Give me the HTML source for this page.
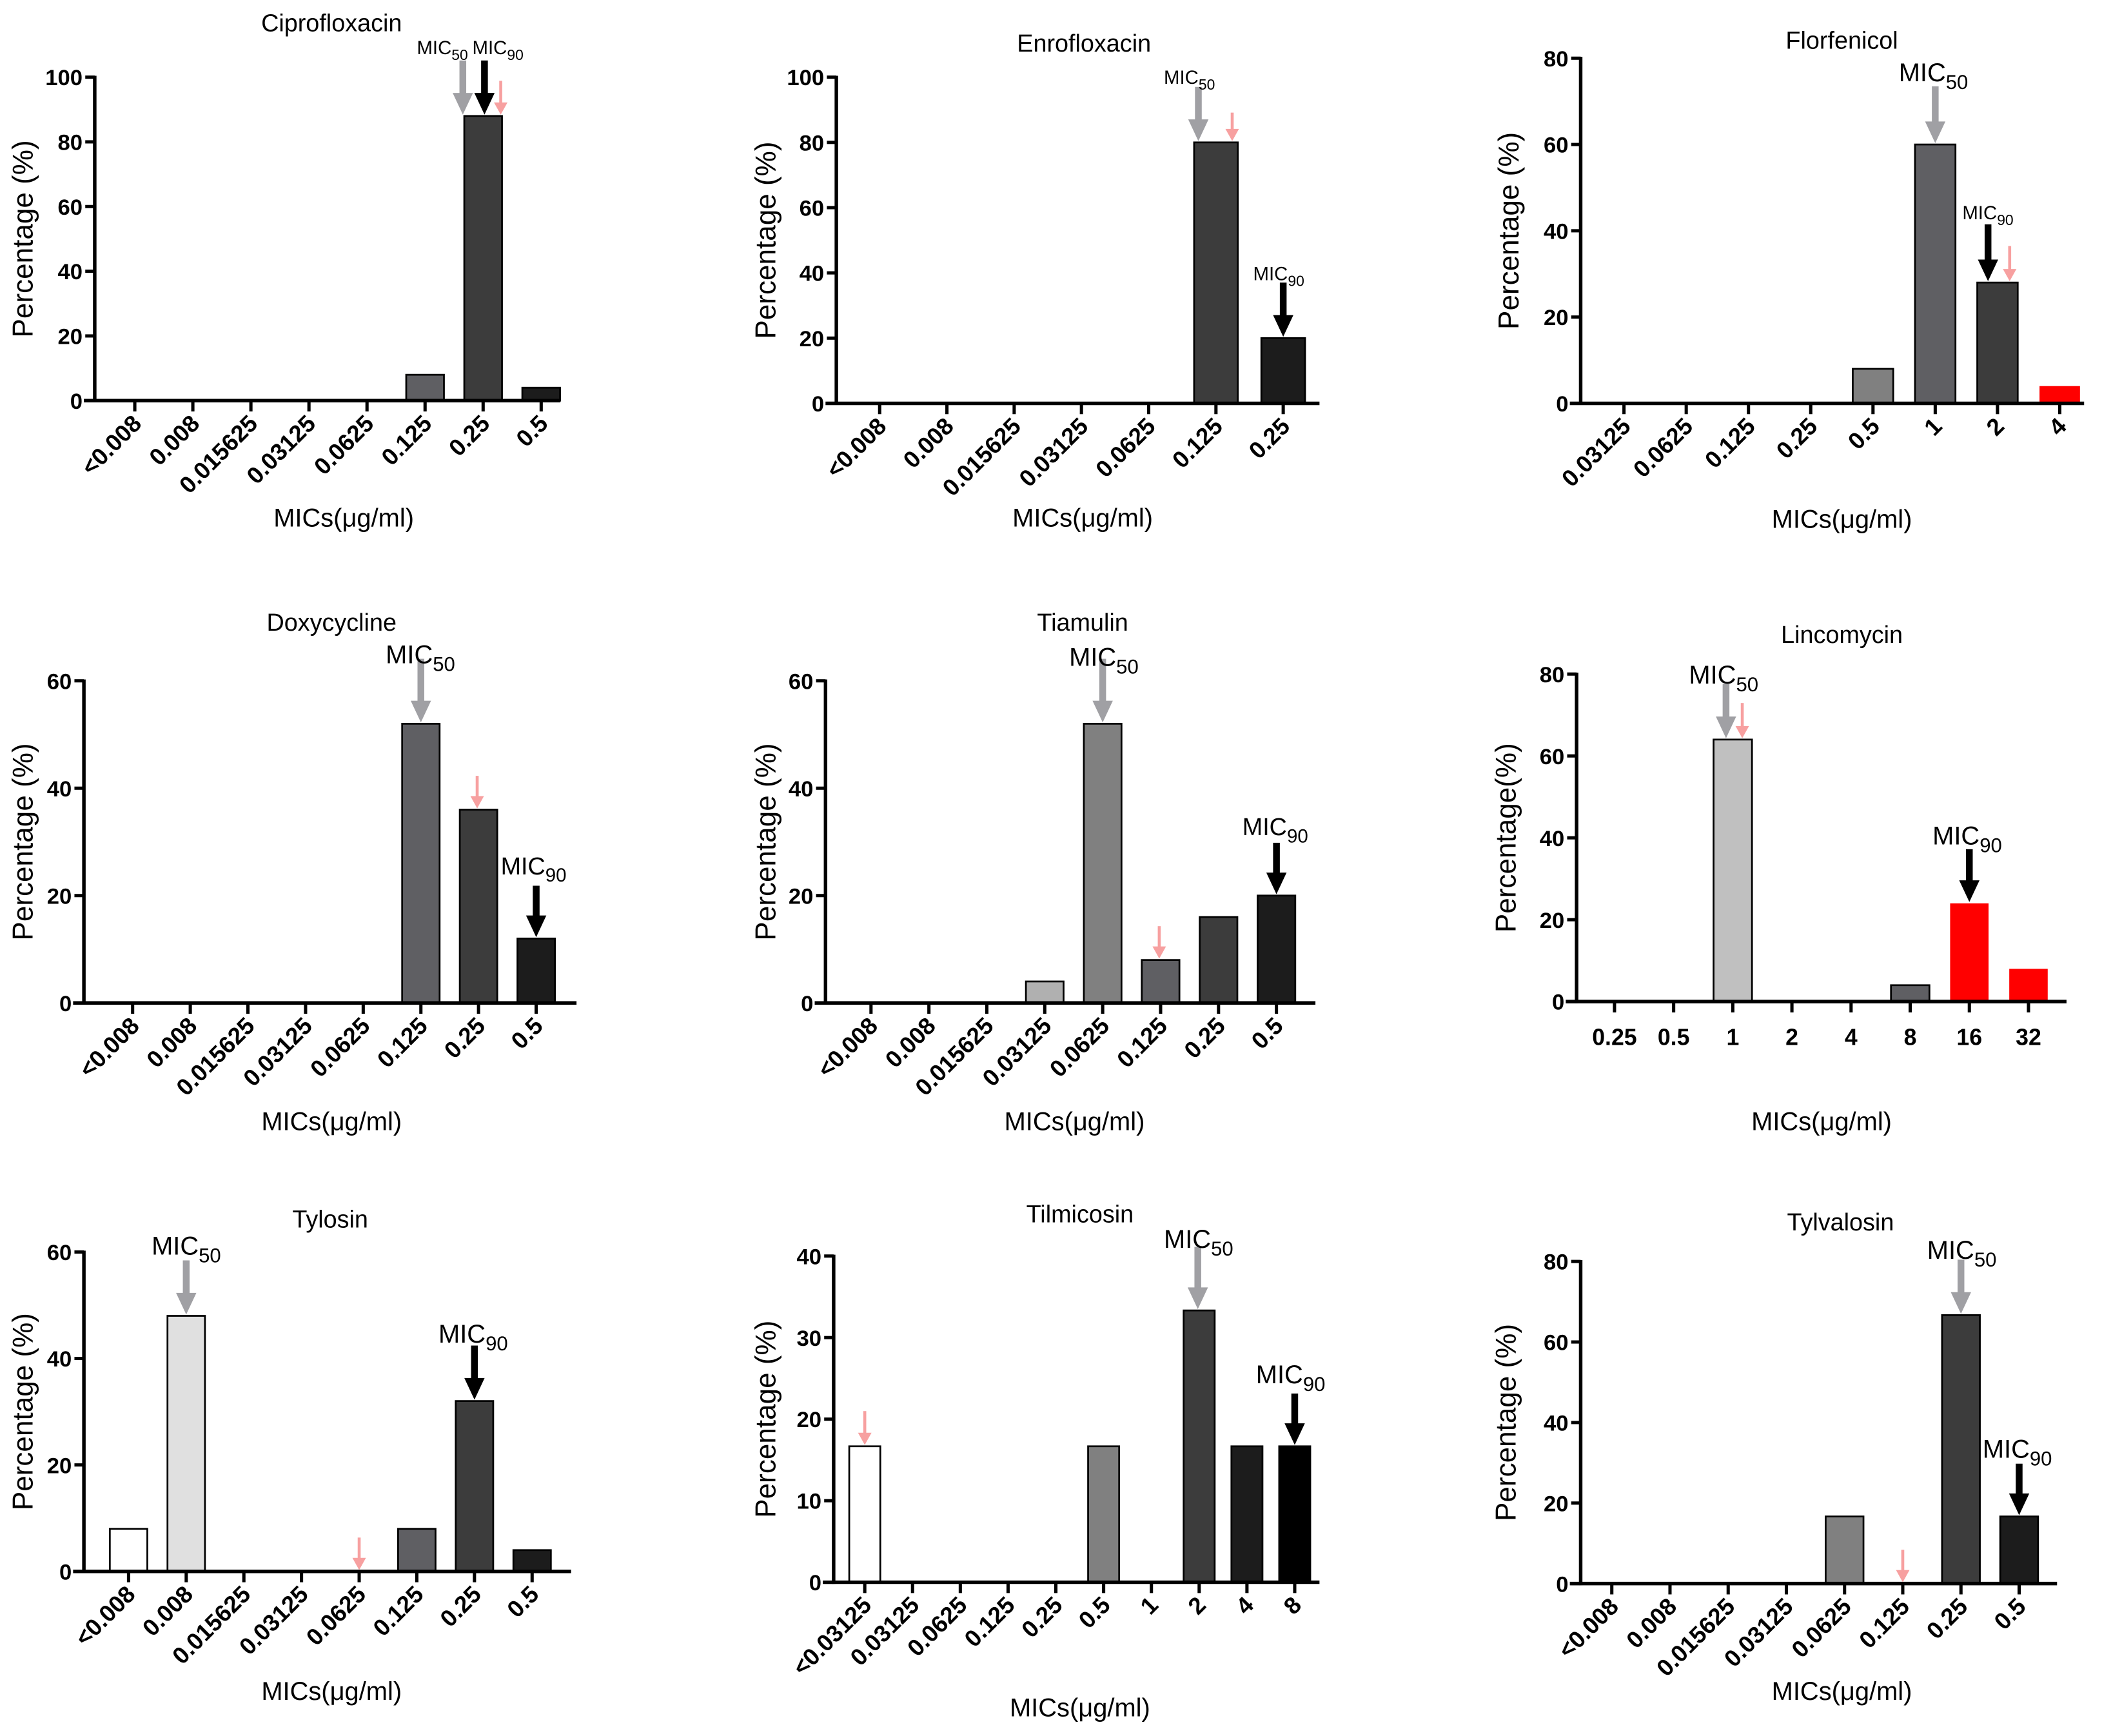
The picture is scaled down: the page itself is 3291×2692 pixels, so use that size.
<!DOCTYPE html>
<html><head><meta charset="utf-8"><style>
html,body{margin:0;padding:0;background:#fff;}
svg{display:block;font-family:"Liberation Sans",Arial,sans-serif;}
</style></head><body>
<svg id="fig" xmlns="http://www.w3.org/2000/svg" width="3291" height="2692" viewBox="0 0 1568 1282.6"></svg>
<script>
// ---- data ----
const ciproCats=["<0.008","0.008","0.015625","0.03125","0.0625","0.125","0.25","0.5"];
const ciproVals=[0,0,0,0,0,8,88,4];
const enroCats=["<0.008","0.008","0.015625","0.03125","0.0625","0.125","0.25"];
const enroVals=[0,0,0,0,0,80,20];
const florCats=["0.03125","0.0625","0.125","0.25","0.5","1","2","4"];
const florVals=[0,0,0,0,8,60,28,4];
const doxyCats=["<0.008","0.008","0.015625","0.03125","0.0625","0.125","0.25","0.5"];
const doxyVals=[0,0,0,0,0,52,36,12];
const tiamCats=["<0.008","0.008","0.015625","0.03125","0.0625","0.125","0.25","0.5"];
const tiamVals=[0,0,0,4,52,8,16,20];
const lincCats=["0.25","0.5","1","2","4","8","16","32"];
const lincVals=[0,0,64,0,0,4,24,8];
const tylCats=["<0.008","0.008","0.015625","0.03125","0.0625","0.125","0.25","0.5"];
const tylVals=[8,48,0,0,0,8,32,4];
const tilCats=["<0.03125","0.03125","0.0625","0.125","0.25","0.5","1","2","4","8"];
const tilVals=[16.67,0,0,0,0,16.67,0,33.33,16.67,16.67];
const tyvCats=["<0.008","0.008","0.015625","0.03125","0.0625","0.125","0.25","0.5"];
const tyvVals=[0,0,0,0,16.67,0,66.67,16.67];

const NS="http://www.w3.org/2000/svg";
const svg=document.getElementById('fig');
function mk(tag,attrs,parent){const e=document.createElementNS(NS,tag);for(const k in attrs)e.setAttribute(k,attrs[k]);(parent||svg).appendChild(e);return e;}

const panels=[
 {key:"cipro",title:"Ciprofloxacin",tx:245,ty:23,ax:70,y0:296,yt:57,ymax:100,step:20,x0:99.6,dx:42.9,xend:414,cats:ciproCats,vals:ciproVals,
  colors:["#fff","#fff","#fff","#fff","#fff","#5f5f63","#3c3c3c","#1c1c1c"],rot:true,xtx:254,xty:389,ytx:17,ylab:"Percentage (%)",
  arrows:[{i:6,off:-15,len:40,c:"#a0a0a4"},{i:6,off:1,len:40,c:"#000"},{i:6,off:13,len:25,c:"#f7a0a0",small:true}],
  labels:[{x:308,y:40,fs:14,t:"MIC",s:"50"},{x:349,y:40,fs:14,t:"MIC",s:"90"}]},
 {key:"enro",title:"Enrofloxacin",tx:801,ty:38,ax:618,y0:298,yt:57,ymax:100,step:20,x0:650,dx:49.7,xend:975,cats:enroCats,vals:enroVals,
  colors:["#fff","#fff","#fff","#fff","#fff","#3c3c3c","#1c1c1c"],rot:true,xtx:800,xty:389,ytx:566,ylab:"Percentage (%)",
  arrows:[{i:5,off:-13,len:40,c:"#a0a0a4"},{i:5,off:12,len:21,c:"#f7a0a0",small:true},{i:6,off:0,len:40,c:"#000"}],
  labels:[{x:860,y:62,fs:14,t:"MIC",s:"50"},{x:926,y:207,fs:14,t:"MIC",s:"90"}]},
 {key:"flor",title:"Florfenicol",tx:1361,ty:36,ax:1168,y0:298,yt:43,ymax:80,step:20,x0:1200,dx:46,xend:1540,cats:florCats,vals:florVals,
  colors:["#fff","#fff","#fff","#fff","#808080","#5f5f63","#3c3c3c","#ff0000"],noStroke:[7],rot:true,xtx:1361,xty:390,ytx:1115,ylab:"Percentage (%)",
  arrows:[{i:5,off:0,len:42,c:"#a0a0a4"},{i:6,off:-7,len:42,c:"#000"},{i:6,off:9,len:26,c:"#f7a0a0",small:true}],
  labels:[{x:1403,y:60,fs:19,t:"MIC",s:"50"},{x:1450,y:162,fs:14,t:"MIC",s:"90"}]},
 {key:"doxy",title:"Doxycycline",tx:245,ty:466,ax:62,y0:741,yt:503,ymax:60,step:20,x0:98,dx:42.6,xend:426,cats:doxyCats,vals:doxyVals,
  colors:["#fff","#fff","#fff","#fff","#fff","#5f5f63","#3c3c3c","#1c1c1c"],rot:true,xtx:245,xty:835,ytx:17,ylab:"Percentage (%)",
  arrows:[{i:5,off:0,len:47,c:"#a0a0a4"},{i:6,off:-1,len:24,c:"#f7a0a0",small:true},{i:7,off:0,len:38,c:"#000"}],
  labels:[{x:285,y:490,fs:19,t:"MIC",s:"50"},{x:370,y:646,fs:18,t:"MIC",s:"90"}]},
 {key:"tiam",title:"Tiamulin",tx:800,ty:466,ax:610,y0:741,yt:503,ymax:60,step:20,x0:643.6,dx:42.8,xend:972,cats:tiamCats,vals:tiamVals,
  colors:["#fff","#fff","#fff","#b0b0b0","#808080","#5f5f63","#3c3c3c","#1c1c1c"],rot:true,xtx:794,xty:835,ytx:566,ylab:"Percentage (%)",
  arrows:[{i:4,off:0,len:47,c:"#a0a0a4"},{i:5,off:-1,len:24,c:"#f7a0a0",small:true},{i:7,off:0,len:38,c:"#000"}],
  labels:[{x:790,y:492,fs:19,t:"MIC",s:"50"},{x:918,y:617,fs:18,t:"MIC",s:"90"}]},
 {key:"linc",title:"Lincomycin",tx:1361,ty:475,ax:1165,y0:740,yt:498,ymax:80,step:20,x0:1193,dx:43.7,xend:1527,cats:lincCats,vals:lincVals,
  colors:["#fff","#fff","#c0c0c0","#fff","#fff","#5f5f63","#ff0000","#ff0000"],noStroke:[6,7],rot:false,xtx:1346,xty:835,ytx:1113,ylab:"Percentage(%)",
  arrows:[{i:2,off:-5,len:40,c:"#a0a0a4"},{i:2,off:7,len:26,c:"#f7a0a0",small:true},{i:6,off:0,len:39,c:"#000"}],
  labels:[{x:1248,y:505,fs:19,t:"MIC",s:"50"},{x:1428,y:624,fs:19,t:"MIC",s:"90"}]},
 {key:"tyl",title:"Tylosin",tx:244,ty:907,ax:62,y0:1161,yt:925,ymax:60,step:20,x0:95,dx:42.6,xend:422,cats:tylCats,vals:tylVals,
  colors:["#ffffff","#e0e0e0","#fff","#fff","#fff","#5f5f63","#3c3c3c","#1c1c1c"],rot:true,xtx:245,xty:1256,ytx:17,ylab:"Percentage (%)",
  arrows:[{i:1,off:0,len:40,c:"#a0a0a4"},{i:4,off:0,len:24,c:"#f7a0a0",small:true},{i:6,off:0,len:40,c:"#000"}],
  labels:[{x:112,y:927,fs:19,t:"MIC",s:"50"},{x:324,y:992,fs:19,t:"MIC",s:"90"}]},
 {key:"til",title:"Tilmicosin",tx:798,ty:903,ax:616,y0:1169,yt:928,ymax:40,step:10,x0:639,dx:35.3,xend:975,cats:tilCats,vals:tilVals,
  colors:["#ffffff","#fff","#fff","#fff","#fff","#808080","#fff","#3c3c3c","#1c1c1c","#000000"],rot:true,xtx:798,xty:1268,ytx:566,ylab:"Percentage (%)",
  arrows:[{i:7,off:-1,len:46,c:"#a0a0a4"},{i:0,off:0,len:25,c:"#f7a0a0",small:true},{i:9,off:0,len:38,c:"#000"}],
  labels:[{x:860,y:922,fs:19,t:"MIC",s:"50"},{x:928,y:1022,fs:19,t:"MIC",s:"90"}]},
 {key:"tyv",title:"Tylvalosin",tx:1360,ty:909,ax:1168,y0:1170,yt:932,ymax:80,step:20,x0:1191,dx:43,xend:1520,cats:tyvCats,vals:tyvVals,
  colors:["#fff","#fff","#fff","#fff","#808080","#fff","#3c3c3c","#1c1c1c"],rot:true,xtx:1361,xty:1256,ytx:1113,ylab:"Percentage (%)",
  arrows:[{i:6,off:0,len:40,c:"#a0a0a4"},{i:5,off:0,len:24,c:"#f7a0a0",small:true},{i:7,off:0,len:38,c:"#000"}],
  labels:[{x:1424,y:930,fs:19,t:"MIC",s:"50"},{x:1465,y:1077,fs:19,t:"MIC",s:"90"}]}
];

panels.forEach(p=>{
  const g=mk('g',{});
  
  
  const ys=v=>p.y0-(v/p.ymax)*(p.y0-p.yt);
  const xs=i=>p.x0+i*p.dx;
  const bw=p.dx*0.65;
  const t=mk('text',{x:p.tx,y:p.ty,'text-anchor':'middle','font-size':18,fill:'#000'},g);
  
  
  t.textContent=p.title;
  p.vals.forEach((v,i)=>{
    if(v<=0)return;
    const ns=p.noStroke&&p.noStroke.includes(i);
    const r=mk('rect',{x:xs(i)-bw/2,y:ys(v),width:bw,height:p.y0-ys(v),fill:p.colors[i],stroke:ns?'none':'#000','stroke-width':1.3},g);
    
    
  });
  const ya=mk('line',{x1:p.ax,y1:p.yt-1,x2:p.ax,y2:p.y0+1.2,stroke:'#000','stroke-width':2.6},g);
  
  
  for(let v=0;v<=p.ymax;v+=p.step){
    mk('line',{x1:p.ax-7,y1:ys(v),x2:p.ax,y2:ys(v),stroke:'#000','stroke-width':2.4},g);
    const tl=mk('text',{x:p.ax-9,y:ys(v)+6,'text-anchor':'end','font-size':16.5,'font-weight':'bold'},g);
    
    
    tl.textContent=v;
  }
  const xa=mk('line',{x1:p.ax-8,y1:p.y0,x2:p.xend,y2:p.y0,stroke:'#000','stroke-width':2.6},g);
  
  
  p.cats.forEach((c,i)=>{
    const x=xs(i);
    mk('line',{x1:x,y1:p.y0,x2:x,y2:p.y0+8,stroke:'#000','stroke-width':2.4},g);
    let tl;
    if(p.rot){
      tl=mk('text',{x:x+6,y:p.y0+18,'text-anchor':'end','font-size':17.5,'font-weight':'bold',transform:`rotate(-45 ${x+6} ${p.y0+18})`},g);
    }else{
      tl=mk('text',{x:x,y:p.y0+32,'text-anchor':'middle','font-size':17,'font-weight':'bold'},g);
    }
    
    
    tl.textContent=c;
  });
  const xt=mk('text',{x:p.xtx,y:p.xty,'text-anchor':'middle','font-size':19},g);
  
  
  xt.textContent='MICs(\u03bcg/ml)';
  const cy=(p.y0+p.yt)/2;
  const yt=mk('text',{x:p.ytx,y:cy,'text-anchor':'middle','font-size':21,transform:`rotate(-90 ${p.ytx} ${cy}) translate(0 7)`},g);
  
  
  yt.textContent=p.ylab;
  p.arrows.forEach(a=>{
    const x=xs(a.i)+a.off, tip=ys(p.vals[a.i])-1, top=tip-a.len;
    const sw=a.small?2.2:5, hw=a.small?5:7.5, hl=a.small?9:16;
    const ag=mk('g',{},g);
    
    
    mk('rect',{x:x-sw/2,y:top,width:sw,height:a.len-hl+1,fill:a.c},ag);
    mk('polygon',{points:`${x-hw},${tip-hl} ${x+hw},${tip-hl} ${x},${tip}`,fill:a.c},ag);
  });
  p.labels.forEach(l=>{
    const tx=mk('text',{x:l.x,y:l.y,'font-size':l.fs},g);
    
    
    tx.appendChild(document.createTextNode(l.t));
    const s=mk('tspan',{'font-size':l.fs*0.78,dy:l.fs*0.3},tx);
    s.textContent=l.s;
  });
});
</script>
</body></html>
